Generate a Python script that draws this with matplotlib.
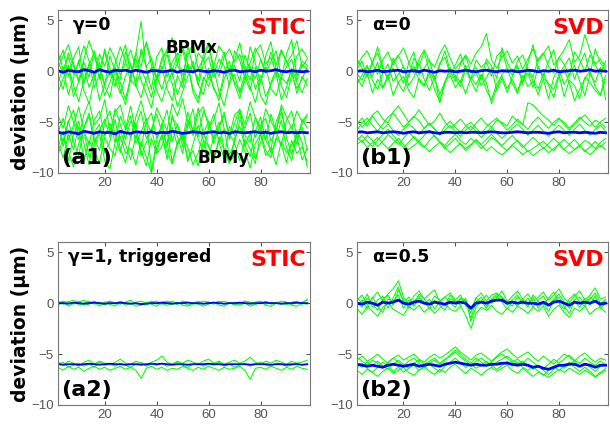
import numpy as np
import matplotlib
matplotlib.use("Agg")
import matplotlib.pyplot as plt

plt.rcParams['font.family'] = ['Liberation Sans', 'DejaVu Sans']

# BPM orbit deviation (um) vs BPM index, one list per trace
a1_x = [
    [0.8, 2.1, -0.5, 1.3, 2.4, -1.2, 0.6, 1.9, -0.8, 2.2, 0.3, -1.5, 1.1, 2.6, -0.4, 1.7, 4.9, 0.2, -1.8, 1.4, 2.3, -0.6, 0.9, 1.8, -1.1, 2.5, 0.4, -0.9, 1.6, 2.8, -0.3, 1.2, 0.5, -1.4, 2.0, 1.1, -0.7, 2.4, 0.8, -1.2, 1.5, 2.9, 0.1, -0.8, 1.7, 3.1, -0.5, 1.0, 0.6],
    [-1.2, 0.4, -2.3, -0.6, 1.1, -1.9, -3.2, -0.8, 0.9, -1.5, -2.6, 0.2, -1.1, -2.8, -0.5, 1.3, -0.9, -2.2, -3.6, -1.0, 0.5, -1.7, -2.9, -0.4, -1.6, 0.7, -2.1, -3.1, -0.9, 0.3, -1.8, -2.5, -0.2, 1.0, -1.3, -2.7, -0.6, -1.9, 0.4, -2.4, -3.3, -1.1, 0.2, -1.4, -2.6, -0.3, -1.7, -0.8, 0.5],
    [1.9, 0.2, 1.4, -0.3, 0.8, 2.5, 1.0, -0.6, 1.7, 0.5, 2.3, 1.2, -0.4, 0.9, 2.1, 0.3, 1.6, 2.7, 0.6, -0.7, 1.3, 2.0, 0.1, 1.5, 2.4, 0.7, -0.2, 1.8, 1.1, 2.6, 0.4, -0.5, 1.4, 2.2, 0.9, 1.7, -0.1, 0.8, 2.3, 1.2, 0.0, 1.9, 0.6, 2.1, 1.0, -0.3, 1.5, 2.2, 1.3],
    [-0.4, -1.8, 0.6, -2.5, -1.0, 0.3, -1.6, -0.2, -2.9, -1.3, 0.1, -0.9, -2.2, -0.5, 0.8, -1.4, -2.6, -0.7, 0.4, -1.9, -3.0, -1.2, -0.1, -2.3, -0.8, 0.6, -1.7, -2.7, -0.6, -1.5, 0.2, -2.0, -3.4, -1.1, -0.3, -2.2, -1.0, 0.5, -1.8, -0.4, -2.5, -1.3, -0.2, -2.8, -1.6, 0.3, -1.1, -2.1, -0.7],
    [0.3, 1.5, 2.6, 0.8, -0.9, 1.2, 3.0, 1.4, 0.1, 2.0, -0.5, 0.7, 2.4, 1.0, -1.0, 1.8, 0.4, 2.9, 1.1, -0.6, 0.9, 2.2, 3.3, 0.6, -0.4, 1.6, 2.7, 0.2, 1.3, -0.8, 0.5, 2.5, 1.7, 0.0, 1.1, 2.8, 0.3, -0.9, 1.9, 2.6, 0.7, 1.4, -0.3, 2.1, 0.8, 1.6, 3.0, 0.4, 1.2],
    [-2.1, -0.7, 0.5, -1.4, -3.0, -0.9, 0.8, -1.6, -0.3, -2.4, -1.1, 0.4, -1.9, -3.3, -0.8, -1.5, 0.2, -1.0, -2.6, -0.4, -1.8, 0.1, -1.2, -3.5, -2.0, -0.5, 0.6, -1.3, -2.3, -0.1, -1.6, -2.9, -0.7, 0.3, -1.1, -2.0, -0.2, -1.5, -3.1, -0.9, 0.4, -1.7, -2.4, -0.6, -1.2, 0.1, -2.2, -0.5, -1.4],
    [1.0, -0.3, 1.8, 0.5, -1.1, 0.9, -0.6, 2.0, 0.2, -1.3, 1.5, 0.0, -0.8, 1.9, 0.6, -1.2, 2.2, 0.4, 1.3, -0.9, 0.1, 1.7, -0.5, 0.8, 2.1, -0.2, 1.0, -1.4, 0.7, 1.4, -0.6, 0.3, 1.9, -0.4, 0.6, -1.0, 1.6, 0.2, -0.7, 1.1, -0.2, 0.9, 2.0, -0.5, 0.4, 1.2, -0.9, 0.7, 0.1],
]
a1_y = [
    [-5.2, -7.4, -4.8, -6.9, -8.3, -5.5, -4.1, -6.6, -7.8, -5.0, -3.9, -6.2, -8.0, -5.7, -4.4, -7.1, -6.0, -4.6, -9.8, -6.8, -5.1, -7.5, -4.3, -6.4, -8.1, -5.3, -3.7, -6.7, -7.9, -5.6, -4.2, -7.0, -8.6, -5.4, -6.3, -4.0, -7.3, -8.4, -5.9, -4.5, -6.8, -7.7, -5.0, -3.6, -6.5, -8.2, -5.8, -7.0, -9.4],
    [-7.5, -5.9, -8.8, -6.3, -4.9, -7.1, -9.2, -6.0, -5.2, -8.0, -6.9, -4.7, -7.6, -9.0, -6.5, -5.1, -8.3, -7.0, -5.6, -7.9, -6.2, -8.7, -5.5, -7.3, -6.1, -8.9, -7.2, -5.3, -6.8, -8.5, -6.4, -5.0, -7.7, -9.1, -6.6, -5.4, -7.4, -6.0, -8.6, -7.0, -5.7, -8.1, -6.7, -4.8, -7.5, -8.8, -6.2, -5.5, -7.8],
    [-4.3, -5.6, -3.4, -5.0, -6.7, -4.2, -3.0, -5.3, -4.6, -2.8, -5.9, -4.0, -3.3, -5.4, -6.5, -4.5, -2.9, -4.9, -6.1, -3.6, -4.7, -5.8, -3.2, -4.4, -2.7, -5.1, -6.3, -4.1, -3.5, -5.5, -4.8, -3.1, -5.7, -6.4, -4.3, -3.8, -5.2, -3.0, -4.6, -5.9, -3.7, -4.9, -6.0, -3.3, -4.5, -5.6, -3.9, -5.0, -4.2],
    [-8.2, -6.6, -7.9, -9.4, -7.1, -5.8, -8.5, -7.3, -6.1, -8.8, -9.6, -7.0, -6.4, -8.1, -7.6, -9.2, -6.9, -8.4, -10.0, -7.5, -6.3, -8.0, -9.1, -7.2, -6.0, -8.6, -7.8, -9.3, -6.8, -7.4, -8.9, -6.5, -7.7, -9.0, -8.2, -6.7, -7.9, -9.5, -7.1, -6.2, -8.3, -7.5, -9.2, -6.9, -8.0, -7.3, -6.4, -8.7, -7.6],
    [-6.0, -4.6, -6.8, -5.3, -3.5, -5.9, -7.2, -4.8, -3.9, -6.4, -5.1, -7.0, -4.4, -5.7, -3.4, -6.1, -7.5, -5.0, -4.1, -6.6, -5.4, -3.8, -6.9, -5.2, -7.4, -4.7, -5.8, -3.6, -6.2, -4.9, -7.1, -5.5, -4.0, -6.7, -5.1, -3.7, -6.3, -7.0, -4.5, -5.6, -6.8, -4.2, -5.9, -7.3, -4.8, -3.9, -6.5, -5.2, -4.4],
    [-7.0, -8.5, -6.2, -7.7, -5.4, -8.8, -6.8, -7.9, -9.0, -6.5, -7.6, -8.3, -5.9, -7.2, -8.7, -6.3, -7.8, -9.3, -6.6, -8.1, -7.4, -5.8, -8.9, -7.0, -6.4, -7.5, -9.2, -8.0, -6.1, -7.3, -8.4, -6.9, -5.7, -8.2, -7.1, -8.8, -6.7, -7.6, -9.1, -6.0, -7.8, -8.5, -6.6, -7.2, -9.0, -6.8, -8.1, -7.4, -8.9],
    [-5.5, -6.9, -5.0, -3.8, -6.3, -5.6, -4.4, -7.0, -5.8, -4.7, -6.5, -3.7, -5.2, -6.7, -4.9, -5.4, -3.9, -6.6, -5.7, -4.2, -6.0, -7.1, -4.6, -5.3, -6.8, -4.0, -5.9, -6.4, -3.9, -5.0, -6.7, -5.5, -4.3, -6.2, -7.0, -4.8, -5.6, -4.1, -6.5, -5.3, -4.6, -6.9, -5.7, -4.0, -6.1, -5.4, -7.2, -4.7, -5.6],
]
a1_mean_x = [0.05, -0.1, 0.1, 0.0, -0.05, 0.15, 0.05, -0.1, 0.15, 0.0, -0.1, 0.1, 0.05, 0.1, -0.05, 0.1, 0.0, -0.1, 0.05, 0.05, -0.05, 0.0, 0.1, -0.1, 0.05, 0.0, -0.05, 0.1, 0.0, -0.05, 0.05, 0.0, -0.1, 0.05, 0.1, -0.05, 0.0, 0.05, -0.05, 0.1, 0.0, 0.05, 0.15, 0.0, -0.05, 0.05, 0.0, -0.05, 0.0]
a1_mean_y = [-6.0, -6.1, -5.95, -6.05, -6.15, -5.9, -6.0, -6.1, -5.95, -6.05, -6.0, -6.15, -5.9, -6.05, -6.1, -5.95, -6.0, -6.05, -5.95, -6.1, -6.0, -6.05, -5.9, -6.0, -6.1, -6.05, -5.95, -6.0, -6.1, -6.0, -5.95, -6.05, -6.0, -6.1, -5.95, -6.0, -6.05, -6.0, -5.95, -6.05, -6.0, -6.1, -6.0, -5.95, -6.05, -6.0, -6.05, -6.0, -6.05]

b1_x = [
    [0.5, 1.4, 2.0, 0.8, -0.3, 1.1, 1.9, 0.6, 1.5, 2.3, 0.9, -0.2, 1.2, 2.1, 1.0, 0.4, 1.7, 2.6, 1.3, 0.2, 0.9, 1.6, 0.7, 1.8, 2.4, 3.7, 1.1, 0.3, 1.4, 2.0, 0.8, 1.5, 0.2, 1.2, 2.2, 1.0, 1.7, 2.5, 0.6, 1.3, 2.1, 3.1, 0.9, 1.5, 3.6, 2.0, 0.7, 1.2, 0.4],
    [-0.6, -1.5, -0.2, -2.1, -0.8, -1.7, -0.3, -2.4, -1.1, -0.5, -1.9, -2.6, -0.7, -1.4, -0.2, -1.8, -3.0, -1.0, -0.4, -1.6, -0.9, -2.2, -0.6, -1.3, -0.3, -1.9, -2.8, -1.2, -0.5, -1.7, -0.8, -2.0, -0.4, -1.5, -1.0, -2.3, -0.7, -1.2, -1.8, -0.3, -2.5, -0.9, -1.4, -2.7, -0.6, -1.1, -1.9, -2.4, -0.8],
    [1.2, 0.3, -0.5, 1.0, 1.8, 0.2, -0.7, 0.9, 1.6, 0.4, -0.6, 1.3, 0.5, 1.9, 0.0, -0.9, 0.8, 1.4, -0.3, 0.6, 1.7, 0.1, -0.8, 1.1, 0.4, 0.9, -0.5, 1.5, 2.0, 0.3, -0.4, 1.0, 1.6, 0.2, -0.6, 1.2, 1.8, 0.5, -0.2, 1.4, 0.7, -0.5, 1.9, 1.1, 0.0, 1.6, 0.6, -0.3, 1.0],
    [-1.3, -0.4, 0.6, -0.9, -1.8, -0.2, 0.7, -1.0, -0.3, 0.5, -1.4, -0.6, 0.8, -0.8, -1.9, -0.5, -3.1, -1.2, 0.4, -0.7, -1.5, 0.2, -0.9, -2.0, -0.4, -1.1, -3.2, -1.6, -0.3, 0.3, -1.2, -2.2, -0.6, 0.1, -0.9, -1.7, -0.2, -1.4, -2.6, -0.5, 0.2, -1.1, -2.9, -1.8, -0.7, 0.0, -1.5, -2.3, -0.4],
    [0.2, 1.0, -0.6, 0.7, 2.4, 0.5, -0.9, 1.3, 0.1, -1.2, 0.8, 1.9, -0.4, 0.3, 1.1, -0.8, 0.6, 2.0, 0.0, -1.0, 0.7, 1.5, -0.2, 0.4, -0.9, 1.2, 0.5, -0.7, 2.3, 0.9, -0.1, 0.6, -1.3, 0.8, 2.6, 0.3, -0.5, 1.0, 2.1, -0.3, 0.5, 1.3, -0.8, 0.7, 1.8, -0.4, 2.2, 0.8, 0.1],
    [-0.2, -0.9, 0.4, -0.5, 0.9, -1.6, -0.7, 0.3, -1.2, -2.0, -0.3, 0.5, -0.9, -1.5, 0.2, -0.6, -2.3, -1.0, 0.1, -0.4, -1.1, 0.6, -0.8, -0.1, -1.4, -0.6, 0.3, -1.9, -0.7, -2.1, -0.5, 0.4, -1.0, -0.2, -1.6, 0.5, -0.8, -2.7, -0.6, 0.2, -1.3, -0.4, 0.6, -1.0, -2.4, -0.3, -1.1, 0.4, -2.8],
]
b1_y = [
    [-5.2, -4.6, -5.4, -4.3, -3.9, -4.7, -5.1, -4.0, -3.4, -4.2, -5.0, -4.5, -3.8, -4.6, -5.3, -4.9, -4.1, -5.0, -5.6, -5.2, -4.7, -5.3, -5.8, -5.1, -4.6, -5.2, -5.5, -4.8, -5.0, -5.4, -4.4, -4.9, -5.3, -3.1, -3.3, -3.9, -4.4, -4.8, -5.3, -4.7, -5.0, -5.6, -5.1, -4.5, -5.0, -5.4, -4.8, -5.1, -5.5],
    [-6.5, -7.0, -6.3, -6.8, -7.4, -6.9, -6.2, -6.7, -7.2, -6.6, -6.0, -6.5, -7.1, -7.5, -6.8, -6.3, -6.9, -7.3, -6.7, -6.2, -6.8, -7.2, -6.6, -7.0, -7.6, -7.1, -6.5, -6.9, -7.4, -7.8, -7.2, -6.8, -7.3, -7.9, -7.6, -7.2, -6.9, -7.4, -7.8, -7.1, -6.7, -7.2, -7.7, -7.3, -6.8, -7.1, -7.6, -7.0, -6.6],
    [-5.8, -5.1, -4.6, -5.3, -5.9, -5.2, -4.5, -4.1, -4.8, -5.5, -5.0, -4.4, -4.9, -5.6, -5.1, -5.7, -6.2, -5.4, -4.9, -5.5, -6.0, -5.4, -5.0, -5.6, -6.1, -5.5, -5.0, -4.6, -5.2, -5.8, -5.3, -4.7, -5.2, -5.7, -5.0, -4.5, -5.1, -5.6, -5.0, -4.6, -5.2, -5.8, -5.2, -4.7, -4.3, -4.9, -5.5, -5.0, -4.6],
    [-7.2, -6.8, -7.5, -7.0, -6.5, -7.1, -7.6, -7.1, -6.6, -7.2, -7.7, -7.3, -6.9, -7.4, -7.9, -7.4, -7.0, -7.5, -8.0, -7.5, -7.1, -7.6, -7.2, -6.8, -7.3, -7.8, -7.4, -7.9, -8.2, -7.8, -7.3, -7.7, -8.2, -7.8, -8.3, -7.9, -7.5, -8.0, -7.6, -7.2, -7.7, -8.1, -7.7, -7.3, -7.8, -8.2, -7.7, -7.3, -7.7],
    [-4.9, -5.5, -5.0, -4.4, -5.1, -5.7, -5.2, -5.8, -6.3, -5.7, -5.2, -5.6, -6.2, -5.6, -5.1, -5.7, -6.3, -5.8, -5.3, -5.9, -6.4, -5.8, -5.4, -5.9, -6.5, -6.0, -5.5, -6.1, -6.6, -6.1, -5.6, -5.2, -5.7, -6.3, -5.8, -5.3, -5.9, -6.4, -5.8, -5.3, -5.8, -6.3, -5.7, -5.2, -5.8, -6.3, -5.7, -5.3, -5.9],
    [-6.8, -6.3, -6.9, -7.4, -6.8, -6.2, -5.7, -6.3, -6.9, -7.5, -7.0, -6.4, -6.9, -6.3, -5.8, -6.4, -7.0, -7.6, -7.1, -6.6, -7.2, -7.8, -7.3, -6.7, -7.2, -6.7, -6.2, -6.8, -7.3, -6.8, -6.3, -6.9, -7.5, -7.0, -6.5, -7.0, -7.6, -7.1, -6.6, -7.1, -7.7, -7.2, -6.7, -7.3, -7.9, -7.4, -6.9, -7.4, -7.0],
]
b1_mean_x = [0.0, 0.05, -0.05, 0.0, 0.1, -0.05, 0.0, 0.05, 0.1, -0.05, 0.0, 0.05, -0.05, 0.1, 0.0, -0.1, 0.05, 0.0, 0.05, -0.05, 0.0, 0.1, 0.0, -0.05, 0.05, 0.1, 0.0, -0.05, 0.05, 0.0, 0.05, -0.05, 0.0, 0.1, 0.05, -0.05, 0.05, 0.0, 0.1, -0.05, 0.0, 0.05, 0.1, 0.0, 0.05, 0.15, 0.0, 0.05, 0.0]
b1_mean_y = [-6.0, -5.95, -6.05, -6.0, -5.95, -6.05, -6.0, -5.95, -6.0, -6.1, -6.0, -5.95, -6.05, -6.0, -5.95, -6.05, -6.1, -6.0, -6.0, -6.05, -6.0, -6.05, -6.0, -6.0, -6.05, -6.0, -5.95, -6.0, -6.05, -6.05, -6.0, -5.95, -6.0, -6.05, -6.0, -6.0, -6.05, -6.1, -6.0, -5.95, -6.05, -6.0, -6.0, -6.05, -6.0, -6.05, -6.1, -6.0, -6.05]

a2_x = [
    [0.2, -0.1, 0.1, 0.3, -0.2, 0.0, 0.2, -0.1, 0.1, -0.2, 0.2, 0.0, -0.1, 0.1, 0.3, -0.1, 0.0, -0.2, 0.1, 0.2, -0.1, 0.0, 0.2, -0.1, 0.1, -0.2, 0.0, 0.2, -0.1, 0.1, 0.0, 0.2, -0.1, 0.1, -0.2, 0.0, 0.2, 0.1, -0.1, 0.0, 0.2, -0.1, 0.1, 0.0, -0.2, 0.1, 0.2, -0.1, 0.4],
    [-0.2, 0.1, -0.3, 0.0, 0.2, -0.2, -0.1, 0.1, -0.3, 0.0, -0.1, -0.3, 0.1, -0.2, 0.0, -0.3, -0.2, 0.1, -0.1, -0.3, 0.0, -0.2, -0.1, 0.1, -0.2, -0.3, 0.0, -0.1, -0.3, -0.1, 0.1, -0.2, -0.3, 0.0, -0.1, -0.2, 0.0, -0.3, -0.1, 0.1, -0.2, -0.3, 0.0, -0.1, 0.1, -0.2, -0.3, 0.0, -0.1],
    [0.0, 0.2, 0.1, -0.1, 0.1, 0.3, 0.0, 0.2, -0.1, 0.1, 0.2, -0.1, 0.2, 0.0, -0.1, 0.1, 0.2, 0.0, 0.2, -0.1, 0.1, 0.2, 0.0, -0.1, 0.2, 0.1, -0.1, 0.0, 0.2, 0.1, -0.1, 0.1, 0.2, 0.0, 0.1, -0.1, 0.2, 0.0, 0.1, 0.2, -0.1, 0.1, 0.0, 0.2, 0.1, -0.1, 0.0, 0.1, 0.3],
]
a2_y = [
    [-5.8, -6.1, -5.7, -5.9, -6.2, -5.8, -5.6, -6.0, -5.7, -5.9, -6.1, -5.8, -5.5, -5.9, -6.0, -5.7, -5.9, -6.1, -5.8, -5.6, -5.2, -5.8, -6.0, -5.7, -5.9, -5.6, -5.8, -6.0, -5.7, -5.5, -5.9, -5.7, -6.0, -5.8, -5.6, -5.9, -5.7, -5.3, -5.8, -6.0, -5.7, -5.9, -5.6, -5.8, -6.0, -5.7, -5.9, -5.8, -5.6],
    [-6.3, -6.6, -6.2, -6.5, -6.3, -6.7, -6.4, -6.2, -6.5, -6.3, -6.6, -6.4, -6.2, -6.5, -6.3, -6.6, -7.4, -6.4, -6.2, -6.5, -6.3, -6.6, -6.4, -6.5, -6.2, -6.4, -6.6, -6.3, -6.5, -6.2, -6.4, -6.6, -6.3, -6.5, -6.4, -6.2, -6.6, -7.5, -6.4, -6.3, -6.5, -6.2, -6.4, -6.6, -6.3, -6.5, -6.2, -6.4, -6.5],
    [-6.0, -5.8, -6.3, -6.1, -5.9, -6.2, -6.0, -6.3, -5.8, -6.1, -6.0, -6.2, -5.9, -6.1, -6.3, -6.0, -5.8, -6.2, -6.0, -6.1, -5.9, -6.2, -6.0, -5.8, -6.1, -6.3, -6.0, -5.9, -6.2, -6.0, -6.1, -5.8, -6.2, -6.0, -6.3, -6.1, -5.9, -6.2, -6.0, -5.8, -6.1, -6.2, -5.9, -6.0, -6.2, -6.1, -5.9, -6.1, -6.0],
]
a2_mean_x = [0.0, 0.0, -0.05, 0.05, 0.0, -0.05, 0.0, 0.05, 0.0, -0.05, 0.0, 0.0, 0.05, 0.0, -0.05, 0.0, -0.1, -0.05, 0.0, 0.0, 0.05, 0.0, -0.05, 0.0, 0.0, 0.05, 0.0, 0.0, -0.05, 0.0, 0.05, 0.0, -0.05, 0.0, 0.0, 0.05, 0.0, -0.05, 0.0, 0.0, 0.05, 0.0, 0.0, -0.05, 0.0, 0.0, 0.05, 0.0, 0.0]
a2_mean_y = [-6.0, -6.05, -6.0, -6.0, -6.05, -6.0, -5.95, -6.0, -6.05, -6.0, -5.95, -6.0, -6.0, -6.05, -6.0, -6.0, -6.05, -6.0, -5.95, -6.0, -5.95, -6.0, -6.05, -6.0, -6.0, -6.05, -6.0, -6.0, -6.0, -5.95, -6.0, -6.0, -6.05, -6.0, -6.0, -6.0, -6.0, -6.05, -6.0, -6.0, -6.0, -6.05, -6.0, -6.0, -6.05, -6.0, -6.0, -6.05, -6.0]

b2_x = [
    [0.3, 0.8, -0.2, 0.5, 1.1, 0.2, 0.9, 1.4, 2.2, 0.6, -0.1, 0.7, 1.2, 0.4, 0.9, 1.3, 0.1, 0.6, 1.0, 0.3, 0.8, -0.3, -0.6, 0.5, 1.0, 0.2, 0.8, 1.0, 0.6, 0.1, 0.7, 1.2, 0.4, 0.9, 0.2, 0.6, 1.1, 0.3, 0.8, 1.4, 0.5, 0.0, 0.7, 1.2, 0.3, 0.8, 1.5, 0.4, 0.6],
    [-0.5, -1.1, -0.3, -0.8, -1.3, -0.4, 0.1, -0.6, -0.9, -1.2, -0.3, -0.7, -0.2, -0.9, -0.4, -1.0, -0.5, 0.0, -0.6, -0.8, -0.3, -1.2, -2.5, -1.0, -0.4, -0.7, -0.2, -0.8, -1.1, -0.5, -0.9, -0.3, -0.6, -1.0, -0.4, -0.8, -0.3, -1.3, -0.6, -0.2, -0.9, -1.4, -0.5, -0.8, -0.3, -1.1, -0.6, -0.4, -0.9],
    [0.1, -0.4, 0.5, 0.0, -0.7, 0.4, 0.8, -0.2, 1.3, 0.3, -0.5, 0.2, 0.7, -0.1, 0.4, -0.6, 0.2, 0.6, 0.0, -0.4, 0.5, 0.3, -1.5, 0.1, 0.6, -0.3, 0.4, 0.9, 0.5, -0.2, 0.3, 0.8, -0.1, 0.5, -0.4, 0.3, 0.7, -0.2, 0.4, 0.9, 0.1, -0.5, 0.3, 0.6, -0.1, 0.4, 1.0, 0.0, 0.3],
    [-0.2, 0.3, -0.6, 0.6, -0.3, -0.9, 0.4, 0.2, 0.8, -0.5, 0.3, -0.3, 0.5, 0.1, -0.5, 0.3, -0.2, -0.7, 0.4, 0.2, -0.2, 0.5, -1.8, -0.4, 0.2, -0.5, 0.3, 0.7, 0.1, -0.6, 0.2, -0.3, 0.4, -0.2, 0.6, -0.5, 0.1, -0.8, 0.3, 0.6, -0.3, -1.0, 0.2, -0.4, 0.5, -0.2, 0.7, -0.5, 0.0],
    [0.6, 0.0, 0.9, -0.4, 0.3, 0.7, -0.5, 0.5, 1.6, 0.0, 0.6, -0.2, 0.9, 0.4, -0.2, 0.7, 0.3, -0.3, 0.8, 0.1, 0.4, 0.2, -1.0, 0.5, 0.1, 0.8, 0.0, 0.5, 1.2, 0.2, -0.3, 0.6, 0.2, -0.4, 0.8, 0.2, -0.2, 0.5, 1.1, 0.0, -0.6, 0.4, 0.9, 0.1, -0.3, 0.6, 0.2, -0.3, 0.4],
]
b2_y = [
    [-5.6, -5.2, -5.7, -5.4, -5.0, -5.5, -5.9, -5.4, -5.1, -5.6, -5.3, -5.0, -5.5, -5.8, -5.3, -5.0, -5.4, -5.1, -4.7, -4.3, -4.8, -5.2, -5.6, -5.1, -4.9, -5.3, -5.7, -5.2, -4.8, -4.5, -5.0, -5.4, -5.1, -4.8, -5.3, -5.7, -5.2, -5.6, -6.0, -5.5, -5.0, -5.3, -5.7, -5.2, -4.9, -5.4, -5.8, -5.4, -5.6],
    [-6.6, -7.0, -6.5, -6.8, -7.2, -6.7, -6.4, -6.9, -6.6, -6.3, -6.8, -7.1, -6.6, -6.2, -6.7, -7.0, -6.5, -6.8, -6.3, -6.0, -6.5, -6.9, -6.4, -6.7, -7.1, -6.6, -6.3, -6.7, -6.4, -6.1, -6.6, -6.9, -6.4, -6.8, -7.2, -6.8, -7.0, -7.3, -6.9, -6.5, -6.8, -6.4, -6.7, -7.0, -6.6, -6.9, -7.3, -6.9, -6.6],
    [-5.9, -6.3, -5.8, -6.1, -5.7, -6.2, -6.5, -6.0, -5.6, -6.0, -6.4, -5.9, -5.6, -6.0, -5.7, -5.4, -5.9, -5.5, -5.2, -4.8, -5.3, -5.7, -6.1, -5.7, -5.4, -5.8, -6.2, -5.8, -5.5, -5.2, -5.6, -6.0, -5.7, -6.1, -6.5, -6.1, -6.6, -7.0, -6.5, -6.1, -6.4, -6.0, -5.7, -6.2, -5.9, -6.3, -6.7, -6.2, -6.0],
    [-6.3, -5.9, -6.4, -6.8, -6.3, -5.8, -6.2, -6.7, -6.3, -6.8, -6.4, -6.1, -6.6, -6.3, -6.0, -6.4, -6.8, -6.2, -5.8, -5.4, -5.9, -6.3, -6.0, -6.4, -6.1, -5.7, -6.1, -6.5, -6.1, -5.7, -6.2, -5.8, -6.3, -6.6, -6.2, -6.7, -7.1, -6.6, -6.2, -6.6, -6.2, -5.8, -6.3, -6.7, -6.3, -6.7, -7.2, -6.8, -6.4],
    [-5.3, -5.7, -6.1, -5.6, -5.9, -6.3, -5.8, -5.4, -5.8, -6.2, -5.7, -5.4, -5.9, -6.4, -5.9, -5.6, -6.0, -5.6, -5.1, -4.6, -5.0, -5.5, -5.9, -5.4, -5.8, -6.2, -5.8, -5.3, -5.0, -5.4, -5.8, -5.5, -5.9, -5.4, -5.8, -6.2, -6.4, -6.0, -5.5, -5.9, -5.5, -5.1, -5.6, -5.9, -5.4, -5.8, -6.1, -5.7, -6.1],
]
b2_mean_x = [0.0, -0.1, 0.1, 0.0, -0.2, 0.1, 0.0, 0.1, 0.3, 0.0, -0.1, 0.1, 0.2, 0.0, -0.1, 0.1, 0.0, -0.1, 0.1, 0.0, 0.1, 0.0, -0.5, 0.0, 0.1, 0.0, 0.2, 0.3, 0.3, 0.0, 0.1, 0.0, 0.1, 0.0, 0.0, -0.1, 0.1, -0.2, 0.1, 0.2, 0.0, -0.2, 0.1, 0.0, 0.1, 0.0, 0.2, -0.1, 0.0]
b2_mean_y = [-6.0, -6.1, -6.2, -6.1, -6.2, -6.3, -6.1, -6.0, -6.1, -6.2, -6.1, -6.0, -6.2, -6.1, -6.0, -6.1, -6.2, -6.0, -5.9, -5.8, -5.9, -6.0, -6.1, -6.0, -6.1, -6.1, -6.0, -6.0, -5.9, -5.9, -6.0, -6.1, -6.0, -6.1, -6.3, -6.2, -6.4, -6.5, -6.3, -6.1, -6.1, -6.0, -6.0, -6.2, -6.0, -6.1, -6.3, -6.1, -6.1]

panels = [
    # (traces x, traces y, mean x, mean y, left label, method, tag, mean width)
    (a1_x, a1_y, a1_mean_x, a1_mean_y, 'γ=0', 'STIC', '(a1)', 2.0),
    (b1_x, b1_y, b1_mean_x, b1_mean_y, 'α=0', 'SVD', '(b1)', 2.0),
    (a2_x, a2_y, a2_mean_x, a2_mean_y, 'γ=1, triggered', 'STIC', '(a2)', 1.3),
    (b2_x, b2_y, b2_mean_x, b2_mean_y, 'α=0.5', 'SVD', '(b2)', 2.0),
]
axes_rect = [
    [0.095, 0.592, 0.413, 0.384],
    [0.585, 0.592, 0.412, 0.384],
    [0.095, 0.045, 0.413, 0.384],
    [0.585, 0.045, 0.412, 0.384],
]
bold_font = ['DejaVu Sans']

fig = plt.figure(figsize=(6.1, 4.24), dpi=100)

for i, (tx, ty, mx, my, lab, meth, tag, mlw) in enumerate(panels):
    ax = fig.add_axes(axes_rect[i])
    for tr in tx + ty:
        ax.plot(np.linspace(2, 98, len(tr)), tr, color='#00ff00', lw=0.75)
    for tr in (mx, my):
        ax.plot(np.linspace(2, 98, len(tr)), tr, color='#0000ff', lw=mlw)
    ax.set_xlim(2, 99)
    ax.set_ylim(-10, 6)
    ax.set_xticks([20, 40, 60, 80])
    ax.set_yticks([5, 0, -5, -10])
    ax.tick_params(direction='in', top=True, right=True, length=3,
                   labelsize=9.5, colors='#555555', labelcolor='#555555', pad=3)
    for s in ax.spines.values():
        s.set_color('#777777')
        s.set_linewidth(0.8)

    ax.text(0.06 if i != 2 else 0.04, 0.91, lab, transform=ax.transAxes,
            family=bold_font, fontsize=12.5, fontweight='bold', va='center', ha='left')
    ax.text(0.985, 0.89, meth, transform=ax.transAxes, color='red', family=bold_font,
            fontsize=16, fontweight='bold', va='center', ha='right')
    ax.text(0.012, 0.09, tag, transform=ax.transAxes, fontsize=16, family=bold_font,
            fontweight='bold', va='center', ha='left')
    if i % 2 == 0:
        ax.set_ylabel('deviation (μm)', fontsize=13.5, fontweight='bold',
                      family=bold_font, labelpad=1)
    if i == 0:
        ax.text(0.425, 0.765, 'BPMx', transform=ax.transAxes, fontsize=12,
                family=bold_font, fontweight='bold', va='center', ha='left')
        ax.text(0.555, 0.09, 'BPMy', transform=ax.transAxes, fontsize=12,
                family=bold_font, fontweight='bold', va='center', ha='left')

fig.savefig('out.png', dpi=100)
